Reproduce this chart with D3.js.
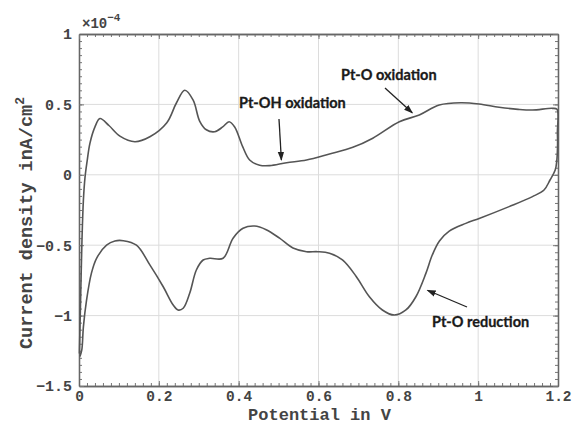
<!DOCTYPE html>
<html>
<head>
<meta charset="utf-8">
<script src="https://cdn.jsdelivr.net/npm/d3@7"></script>
<style>
  html, body { margin: 0; padding: 0; background: #fff; }
  svg { display: block; }
</style>
</head>
<body>
<svg id="chart" width="573" height="425"></svg>
<script>
// ---- Data (cyclic voltammogram, current in units of 1e-4) ----
// Anodic sweep 0 -> 1.2 V, then cathodic sweep 1.2 -> 0 V
const potential = [
  0.001, 0.004, 0.0075, 0.011, 0.015, 0.02, 0.0275, 0.04, 0.0525, 0.075,
  0.1025, 0.14, 0.1775, 0.22, 0.244, 0.265, 0.286, 0.3025, 0.319, 0.34,
  0.36, 0.376, 0.39, 0.41, 0.4275, 0.4525, 0.4775, 0.52, 0.57, 0.6275,
  0.686, 0.736, 0.8025, 0.8525, 0.9025, 0.957, 1.0025, 1.0525, 1.1, 1.136,
  1.186, 1.1975,
  1.1985, 1.199, 1.197, 1.193, 1.18, 1.165, 1.136, 1.0775, 1.0025, 0.969,
  0.9275, 0.903, 0.885, 0.869, 0.844, 0.819, 0.79, 0.76, 0.7275, 0.694,
  0.66, 0.6275, 0.598, 0.57, 0.536, 0.5025, 0.469, 0.44, 0.411, 0.386,
  0.361, 0.3275, 0.311, 0.294, 0.2775, 0.261, 0.248, 0.236, 0.211, 0.1775,
  0.144, 0.111, 0.09, 0.069, 0.044, 0.031, 0.019, 0.011, 0.007, 0.0025
];
const current = [
  -1.27, -0.89, -0.46, -0.18, -0.02, 0.09, 0.225, 0.34, 0.40, 0.35,
  0.275, 0.235, 0.27, 0.37, 0.51, 0.60, 0.53, 0.38, 0.32, 0.306,
  0.34, 0.377, 0.34, 0.2, 0.105, 0.068, 0.065, 0.086, 0.105, 0.148,
  0.195, 0.26, 0.377, 0.425, 0.496, 0.512, 0.503, 0.48, 0.465, 0.46,
  0.472, 0.465,
  0.30, 0.225, 0.10, 0.034, -0.037, -0.108, -0.155, -0.226, -0.31, -0.345,
  -0.40, -0.47, -0.57, -0.70, -0.866, -0.96, -0.996, -0.96, -0.866, -0.72,
  -0.605, -0.557, -0.546, -0.546, -0.52, -0.45, -0.39, -0.364, -0.38, -0.45,
  -0.593, -0.593, -0.605, -0.676, -0.84, -0.948, -0.96, -0.925, -0.795, -0.64,
  -0.5, -0.468, -0.47, -0.5, -0.593, -0.70, -0.889, -1.08, -1.244, -1.29
];

const xTicks = [0, 0.2, 0.4, 0.6, 0.8, 1, 1.2];
const yTicks = [-1.5, -1, -0.5, 0, 0.5, 1];

const annotationLabels = ["Pt-OH oxidation", "Pt-O oxidation", "Pt-O reduction"];
// arrow tip location in data units (V, 1e-4 A)
const annotationTipV = [0.507, 0.835, 0.873];
const annotationTipI = [0.105, 0.44, -0.82];

const xLabel = "Potential in V";
const yLabel = "Current density inA/cm";

// ---- Layout ----
const margin = { left: 79, right: 15, top: 34, bottom: 39 };
const W = 573, H = 425;
const svg = d3.select("#chart");

const x = d3.scaleLinear().domain([0, 1.2]).range([margin.left, W - margin.right]);
const y = d3.scaleLinear().domain([-1.5, 1]).range([H - margin.bottom, margin.top]);

const x0 = x.range()[0], x1 = x.range()[1];
const y0 = y.range()[0], y1 = y.range()[1];

const defs = svg.append("defs");
defs.append("marker")
  .attr("id", "arrow")
  .attr("viewBox", "0 0 10 10")
  .attr("refX", 9).attr("refY", 5)
  .attr("markerWidth", 7).attr("markerHeight", 7)
  .attr("orient", "auto")
  .append("path").attr("d", "M0,1.5 L10,5 L0,8.5 Z").attr("fill", "#222");

// grid
const grid = svg.append("g");
grid.selectAll(".gx").data(xTicks.slice(1, -1)).join("line")
  .attr("x1", d => x(d)).attr("x2", d => x(d))
  .attr("y1", y0).attr("y2", y1)
  .attr("stroke", "#dcdcdc").attr("stroke-width", 1);
grid.selectAll(".gy").data(yTicks.slice(1, -1)).join("line")
  .attr("y1", d => y(d)).attr("y2", d => y(d))
  .attr("x1", x0).attr("x2", x1)
  .attr("stroke", "#dcdcdc").attr("stroke-width", 1);

// axes with inward ticks
const tickFont = "'Liberation Mono', 'Courier New', monospace";
const fmt = d => d3.format("")(d).replace("-", "\u2212");

const axB = d3.axisBottom(x).tickValues(xTicks).tickSizeInner(-5).tickSizeOuter(0).tickPadding(5).tickFormat(fmt);
const axL = d3.axisLeft(y).tickValues(yTicks).tickSizeInner(-5).tickSizeOuter(0).tickPadding(7).tickFormat(fmt);
const axT = d3.axisTop(x).tickValues(xTicks).tickSizeInner(-5).tickSizeOuter(0).tickFormat("");
const axR = d3.axisRight(y).tickValues(yTicks).tickSizeInner(-5).tickSizeOuter(0).tickFormat("");

const minorX = d3.range(0, 1.2001, 0.02);
const minorY = d3.range(-1.5, 1.0001, 0.05);
const mB = d3.axisBottom(x).tickValues(minorX).tickSizeInner(-3).tickSizeOuter(0).tickFormat("");
const mL = d3.axisLeft(y).tickValues(minorY).tickSizeInner(-3).tickSizeOuter(0).tickFormat("");
const mT = d3.axisTop(x).tickValues(minorX).tickSizeInner(-3).tickSizeOuter(0).tickFormat("");
const mR = d3.axisRight(y).tickValues(minorY).tickSizeInner(-3).tickSizeOuter(0).tickFormat("");

function styleAxis(g, size) {
  g.select(".domain").attr("stroke", "#666").attr("stroke-width", 1.3);
  g.selectAll(".tick line").attr("stroke", "#777").attr("stroke-width", 1);
  g.selectAll("text").attr("font-family", tickFont).attr("font-size", size)
    .attr("font-weight", "bold").attr("fill", "#444");
}

[[mB, `translate(0,${y0})`, 14.5], [mL, `translate(${x0},0)`, 15], [mT, `translate(0,${y1})`, 15], [mR, `translate(${x1},0)`, 15],
 [axB, `translate(0,${y0})`, 14.5], [axL, `translate(${x0},0)`, 15], [axT, `translate(0,${y1})`, 15], [axR, `translate(${x1},0)`, 15]]
 .forEach(([ax, tr, s]) => svg.append("g").attr("transform", tr).call(ax).call(styleAxis, s));

// multiplier label
const mult = svg.append("text").attr("x", x0 + 3).attr("y", y1 - 6)
  .attr("font-family", tickFont).attr("font-size", 14).attr("fill", "#444").attr("font-weight", "bold");
mult.append("tspan").text("\u00d710");
mult.append("tspan").attr("dy", -7).attr("font-size", 11).text("\u22124");

// curve
const pts = potential.map((v, i) => [v, current[i]]);
svg.append("path")
  .datum(pts)
  .attr("d", d3.line().x(d => x(d[0])).y(d => y(d[1])).curve(d3.curveCatmullRom.alpha(0.5)))
  .attr("fill", "none").attr("stroke", "#555").attr("stroke-width", 1.6)
  .attr("stroke-linejoin", "round");

// axis labels
svg.append("text").attr("x", (x0 + x1) / 2 + 1).attr("y", 419.5)
  .attr("text-anchor", "middle").attr("font-family", tickFont).attr("font-size", 17)
  .attr("font-weight", "bold").attr("fill", "#444").text(xLabel);
const yl = svg.append("text")
  .attr("transform", `translate(32,${(y0 + y1) / 2 + 13}) rotate(-90)`)
  .attr("text-anchor", "middle").attr("font-family", tickFont).attr("font-size", 18.5)
  .attr("font-weight", "bold").attr("fill", "#444");
yl.append("tspan").text(yLabel);
yl.append("tspan").attr("dy", -8).attr("font-size", 13).text("2");

// annotations
const annFont = "Lato, 'Open Sans', sans-serif";
const textPos = [[239, 108], [341, 80], [432, 327]];
const arrowStart = [[279, 119], [385, 88], [467, 307]];
annotationLabels.forEach((lab, i) => {
  svg.append("text").attr("x", textPos[i][0]).attr("y", textPos[i][1])
    .attr("font-family", annFont).attr("font-size", 14.5).attr("font-weight", "bold")
    .attr("fill", "#1a1a1a").attr("stroke", "#1a1a1a").attr("stroke-width", 0.3).text(lab);
  svg.append("line")
    .attr("x1", arrowStart[i][0]).attr("y1", arrowStart[i][1])
    .attr("x2", x(annotationTipV[i])).attr("y2", y(annotationTipI[i]))
    .attr("stroke", "#222").attr("stroke-width", 1.3)
    .attr("marker-end", "url(#arrow)");
});
</script>
</body>
</html>
